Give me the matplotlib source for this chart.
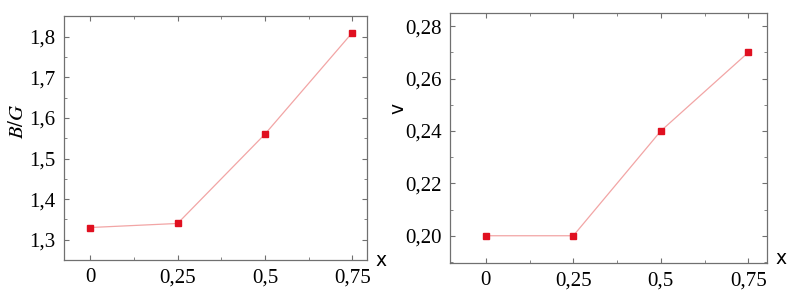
import numpy as np
import matplotlib
matplotlib.use("Agg")
import matplotlib.pyplot as plt
from matplotlib.ticker import AutoMinorLocator

# data
x = [0, 0.25, 0.5, 0.75]
bg = [1.33, 1.34, 1.56, 1.81]
nu = [0.20, 0.20, 0.24, 0.27]

x_labels = ["0", "0,25", "0,5", "0,75"]
bg_ticks = [1.3, 1.4, 1.5, 1.6, 1.7, 1.8]
bg_labels = ["1,3", "1,4", "1,5", "1,6", "1,7", "1,8"]
nu_ticks = [0.20, 0.22, 0.24, 0.26, 0.28]
nu_labels = ["0,20", "0,22", "0,24", "0,26", "0,28"]

plt.rcParams["font.family"] = ["Liberation Serif", "DejaVu Serif"]
plt.rcParams["mathtext.fontset"] = "stix"

C_LINE = "#f2a5a5"
C_MARK = "#e01020"
C_FRAME = "#707070"


def style(ax):
    for s in ax.spines.values():
        s.set_color(C_FRAME)
        s.set_linewidth(0.9)
    ax.xaxis.set_minor_locator(AutoMinorLocator(2))
    ax.yaxis.set_minor_locator(AutoMinorLocator(2))
    ax.tick_params(which="both", direction="in", top=True, right=True,
                   color=C_FRAME, labelsize=15, pad=6)
    ax.tick_params(which="major", length=3.5)
    ax.tick_params(which="minor", length=2)


def draw(ax, y, yt, yl):
    ax.plot(x, y, color=C_LINE, lw=0.9, zorder=2)
    ax.plot(x, y, ls="none", marker="s", ms=4.5, color=C_MARK, zorder=3)
    ax.set_xticks(x)
    ax.set_xticklabels(x_labels)
    ax.set_yticks(yt)
    ax.set_yticklabels(yl)
    style(ax)


fig = plt.figure(figsize=(7.97, 2.95), dpi=100)
ax1 = fig.add_axes([64 / 797, 1 - 260 / 295, 303 / 797, 244 / 295])
ax2 = fig.add_axes([450 / 797, 1 - 263 / 295, 317 / 797, 250 / 295])

draw(ax1, bg, bg_ticks, bg_labels)
ax1.set_xlim(-0.075, 0.792)
ax1.set_ylim(1.25, 1.851)
ax1.text(-0.15, 0.57, "$B/G$", rotation=90, transform=ax1.transAxes,
         ha="center", va="center", fontsize=15)
ax1.text(1.045, 0.0, "x", transform=ax1.transAxes, ha="center", va="center",
         fontsize=13.5, fontfamily="DejaVu Sans")

draw(ax2, nu, nu_ticks, nu_labels)
ax2.set_xlim(-0.102, 0.803)
ax2.set_ylim(0.1896, 0.285)
ax2.text(-0.165, 0.62, "v", rotation=90, transform=ax2.transAxes,
         ha="center", va="center", fontsize=13.5, fontfamily="DejaVu Sans")
ax2.text(1.045, 0.02, "x", transform=ax2.transAxes, ha="center", va="center",
         fontsize=13.5, fontfamily="DejaVu Sans")

fig.savefig("out.png", dpi=100)
